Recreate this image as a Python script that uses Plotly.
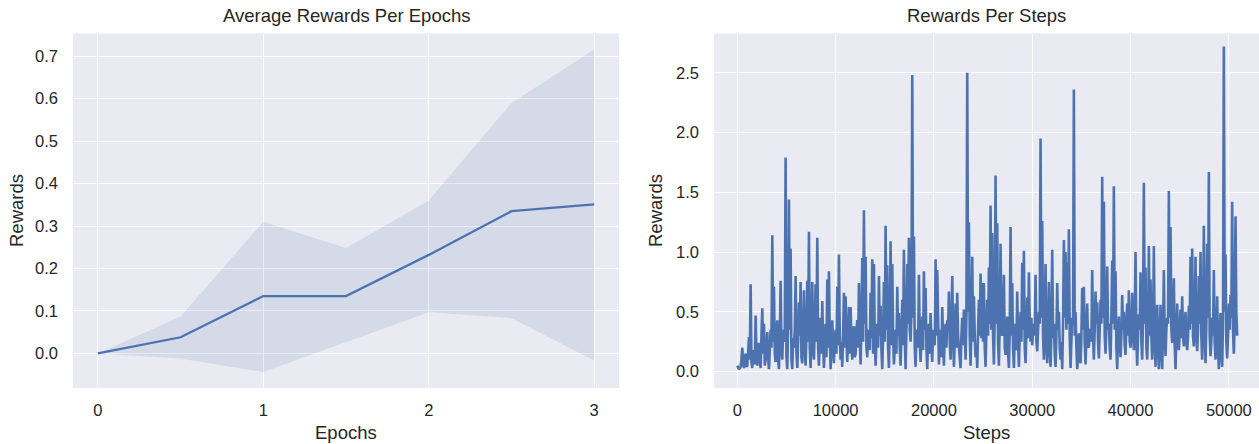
import numpy as np
import plotly.graph_objects as go

# ---------------- data: left panel ----------------
epochs = [0, 0.5, 1, 1.5, 2, 2.5, 3]
avg_reward = [0.0, 0.038, 0.135, 0.135, 0.232, 0.335, 0.351]
ci_upper = [0.0, 0.087, 0.31, 0.248, 0.36, 0.59, 0.716]
ci_lower = [0.0, -0.012, -0.044, 0.027, 0.097, 0.083, -0.017]
epoch_ticks = [0, 1, 2, 3]
left_reward_ticks = [0.0, 0.1, 0.2, 0.3, 0.4, 0.5, 0.6, 0.7]

# ---------------- data: right panel ----------------
step_interval = 84.75
rewards = [
    # 0 - 8100
    0.05, 0.04, 0.02, 0.03, 0.04, 0.10, 0.20, 0.06, 0.03, 0.12, 0.15, 0.04, 0.05, 0.16, 0.29, 0.10, 0.73, 0.08, 0.03, 0.18,
    0.15, 0.06, 0.47, 0.12, 0.05, 0.20, 0.24, 0.09, 0.03, 0.30, 0.53, 0.15, 0.40, 0.05, 0.10, 0.22, 0.33, 0.12, 0.02, 0.18,
    0.35, 0.20, 1.14, 0.25, 0.71, 0.15, 0.08, 0.30, 0.43, 0.10, 0.02, 0.28, 0.76, 0.20, 0.10, 0.35, 0.25, 0.30, 1.79, 0.12,
    0.02, 0.40, 1.44, 0.35, 1.03, 0.10, 0.02, 0.28, 0.20, 0.35, 0.80, 0.15, 0.03, 0.25, 0.58, 0.30, 0.75, 0.12, 0.07, 0.32,
    0.68, 0.20, 0.05, 0.30, 0.76, 0.25, 1.17, 0.20, 0.03, 0.35, 0.75, 0.18, 0.10, 0.40, 0.73, 0.25,
    # 8100 - 16600
    1.12, 0.20, 0.05, 0.30, 0.45, 0.15, 0.59, 0.25, 0.03, 0.22, 0.40, 0.12, 0.77, 0.20, 0.84, 0.30, 0.02, 0.25, 0.43, 0.18,
    0.07, 0.28, 0.35, 0.15, 0.71, 0.22, 0.98, 0.30, 0.10, 0.25, 0.04, 0.32, 0.66, 0.20, 0.63, 0.28, 0.08, 0.30, 0.54, 0.15,
    0.54, 0.25, 0.10, 0.32, 0.38, 0.12, 0.15, 0.35, 0.43, 0.20, 0.74, 0.30, 0.06, 0.40, 0.95, 0.25, 1.35, 0.40, 0.96, 0.20,
    0.12, 0.35, 0.30, 0.18, 0.66, 0.28, 0.94, 0.15, 0.90, 0.30, 0.05, 0.25, 0.40, 0.20, 0.80, 0.30, 0.55, 0.18, 0.02, 0.30,
    0.75, 0.25, 1.22, 0.35, 0.89, 0.20, 0.03, 0.40, 1.09, 0.22, 0.90, 0.30, 0.06, 0.20, 0.35, 0.15, 0.71, 0.30, 0.49, 0.20,
    # 16600 - 25100
    0.05, 0.30, 0.60, 0.22, 1.02, 0.30, 0.02, 0.35, 0.90, 0.40, 1.12, 0.35, 0.25, 0.50, 2.48, 0.45, 1.13, 0.20, 0.04, 0.30,
    0.35, 0.20, 0.81, 0.25, 0.08, 0.30, 0.46, 0.18, 0.84, 0.35, 0.70, 0.20, 0.02, 0.28, 0.40, 0.15, 0.49, 0.25, 0.08, 0.35,
    0.30, 0.22, 0.94, 0.30, 0.85, 0.18, 0.06, 0.30, 0.35, 0.12, 0.54, 0.28, 0.05, 0.32, 0.40, 0.20, 0.43, 0.35, 0.67, 0.25,
    0.10, 0.38, 0.80, 0.30, 0.04, 0.25, 0.57, 0.20, 0.66, 0.30, 0.20, 0.15, 0.03, 0.30, 0.45, 0.22, 0.52, 0.35, 0.10, 0.45,
    2.50, 0.50, 1.25, 0.30, 0.05, 0.35, 0.96, 0.25, 0.63, 0.30, 0.12, 0.20, 0.03, 0.35, 0.60, 0.30, 0.82, 0.28, 0.74, 0.25,
    # 25100 - 33600
    0.74, 0.20, 0.04, 0.35, 0.60, 0.30, 0.87, 0.40, 1.39, 0.35, 1.16, 0.30, 0.06, 0.45, 1.64, 0.40, 1.24, 0.25, 0.05, 0.40,
    1.07, 0.35, 0.30, 0.45, 0.81, 0.20, 0.14, 0.30, 0.46, 0.15, 0.03, 0.35, 1.21, 0.30, 0.74, 0.20, 0.03, 0.30, 0.40, 0.18,
    0.67, 0.25, 0.04, 0.30, 0.50, 0.25, 0.91, 0.35, 1.01, 0.20, 0.07, 0.35, 0.62, 0.28, 0.83, 0.40, 0.25, 0.45, 0.22, 0.35,
    0.40, 0.30, 0.81, 0.25, 0.17, 0.35, 0.50, 0.40, 1.95, 0.45, 1.26, 0.30, 0.10, 0.35, 0.90, 0.22, 0.07, 0.30, 0.75, 0.20,
    0.04, 0.35, 1.02, 0.28, 0.40, 0.15, 0.04, 0.30, 0.74, 0.35, 0.50, 0.20, 0.10, 0.25, 0.02, 0.40, 1.10, 0.45, 1.00, 0.35,
    # 33600 - 42000
    0.91, 0.40, 1.19, 0.30, 0.03, 0.25, 0.45, 0.40, 2.36, 0.30, 0.50, 0.20, 0.02, 0.15, 0.32, 0.12, 0.07, 0.30, 0.70, 0.35,
    0.71, 0.25, 0.06, 0.30, 0.57, 0.22, 0.20, 0.35, 0.35, 0.25, 0.85, 0.30, 0.10, 0.35, 0.67, 0.40, 0.58, 0.25, 0.11, 0.35,
    0.60, 0.40, 1.63, 0.45, 1.42, 0.30, 0.15, 0.40, 0.88, 0.35, 0.40, 0.20, 0.10, 0.45, 0.93, 0.40, 1.55, 0.35, 0.84, 0.20,
    0.02, 0.30, 0.46, 0.25, 0.12, 0.30, 0.64, 0.35, 0.50, 0.22, 0.14, 0.40, 0.57, 0.30, 0.68, 0.25, 0.20, 0.35, 0.66, 0.30,
    0.18, 0.40, 1.00, 0.25, 0.05, 0.30, 0.48, 0.35, 0.83, 0.25, 0.10, 0.45, 1.58, 0.40, 0.87, 0.20, 0.10, 0.35, 1.05, 0.30,
    # 42000 - 50850
    0.77, 0.30, 0.10, 0.35, 1.05, 0.25, 0.04, 0.30, 0.56, 0.20, 0.02, 0.28, 0.56, 0.15, 0.02, 0.35, 0.85, 0.30, 0.13, 0.35,
    0.45, 0.40, 1.51, 0.45, 1.21, 0.35, 0.24, 0.40, 0.78, 0.22, 0.02, 0.30, 0.57, 0.25, 0.18, 0.32, 0.52, 0.28, 0.63, 0.30,
    0.21, 0.35, 0.50, 0.25, 0.18, 0.30, 0.55, 0.35, 0.96, 0.40, 1.03, 0.30, 0.21, 0.40, 0.96, 0.30, 0.17, 0.35, 0.80, 0.40,
    1.00, 0.30, 0.10, 0.40, 1.22, 0.35, 0.07, 0.40, 1.07, 0.45, 1.67, 0.30, 0.13, 0.25, 0.45, 0.30, 0.85, 0.25, 0.10, 0.30,
    0.63, 0.20, 0.02, 0.30, 0.49, 0.15, 0.04, 0.40, 2.72, 0.50, 0.98, 0.25, 0.11, 0.30, 0.57, 0.35, 0.64, 0.45, 1.42, 0.35,
    0.15, 0.40, 1.30, 0.50, 0.30,
]
steps = np.arange(len(rewards)) * step_interval
step_ticks = [0, 10000, 20000, 30000, 40000, 50000]
right_reward_ticks = [0.0, 0.5, 1.0, 1.5, 2.0, 2.5]

# ---------------- style ----------------
W, H = 1259, 444
BLUE = "#4C72B0"
BG = "#EAEAF2"
TXT = "#262626"
FONT = "Liberation Sans, Arial, sans-serif"
TICK_SIZE = 16.5
LABEL_SIZE = 18.5

def px_x(p):
    return p / W

def px_y(p):
    return 1 - p / H

fig = go.Figure()

# confidence band
fig.add_trace(go.Scatter(x=epochs, y=ci_upper, mode="lines", line=dict(width=0),
                         hoverinfo="skip", showlegend=False, xaxis="x", yaxis="y"))
fig.add_trace(go.Scatter(x=epochs, y=ci_lower, mode="lines", line=dict(width=0),
                         fill="tonexty", fillcolor="rgba(76,114,176,0.13)",
                         hoverinfo="skip", showlegend=False, xaxis="x", yaxis="y"))
fig.add_trace(go.Scatter(x=epochs, y=avg_reward, mode="lines",
                         line=dict(color=BLUE, width=2.3),
                         showlegend=False, xaxis="x", yaxis="y"))

fig.add_trace(go.Scatter(x=steps, y=rewards, mode="lines",
                         line=dict(color=BLUE, width=2.6),
                         showlegend=False, xaxis="x2", yaxis="y2"))

axis_common = dict(showgrid=True, gridcolor="white", gridwidth=1.3, zeroline=False,
                   showline=False, ticks="", tickfont=dict(family=FONT, size=TICK_SIZE, color=TXT))

ydom = [px_y(388), px_y(33.5)]

fig.update_layout(
    width=W, height=H,
    margin=dict(l=0, r=0, t=0, b=0),
    paper_bgcolor="white",
    plot_bgcolor=BG,
    showlegend=False,
    xaxis=dict(domain=[px_x(73), px_x(619)], range=[-0.15, 3.15],
               tickvals=epoch_ticks, ticklabelstandoff=10, anchor="y", **axis_common),
    yaxis=dict(domain=ydom, range=[-0.0815, 0.7535], tickvals=left_reward_ticks,
               tickformat=".1f", ticklabelstandoff=14, anchor="x", **axis_common),
    xaxis2=dict(domain=[px_x(714), 1.0], range=[-2370, 53070],
                tickvals=step_ticks, tickformat="d", ticklabelstandoff=10, anchor="y2", **axis_common),
    yaxis2=dict(domain=ydom, range=[-0.137, 2.828], tickvals=right_reward_ticks,
                tickformat=".1f", ticklabelstandoff=14, anchor="x2", **axis_common),
)

def label(text, xp, yp, size, angle=0):
    fig.add_annotation(text=text, x=px_x(xp), y=px_y(yp), xref="paper", yref="paper",
                       showarrow=False, textangle=angle, xanchor="center", yanchor="middle",
                       font=dict(family=FONT, size=size, color=TXT))

label("Average Rewards Per Epochs", 346, 16, LABEL_SIZE)
label("Rewards Per Steps", 987, 16, LABEL_SIZE)
label("Epochs", 346, 432, LABEL_SIZE)
label("Steps", 987, 432, LABEL_SIZE)
label("Rewards", 17, 211, LABEL_SIZE, -90)
label("Rewards", 656, 211, LABEL_SIZE, -90)

# remove the browser's default page margin so the figure fills the window exactly
fig.write_html("out.html", config={"displayModeBar": False},
               post_script="document.body.style.margin='0px';")
